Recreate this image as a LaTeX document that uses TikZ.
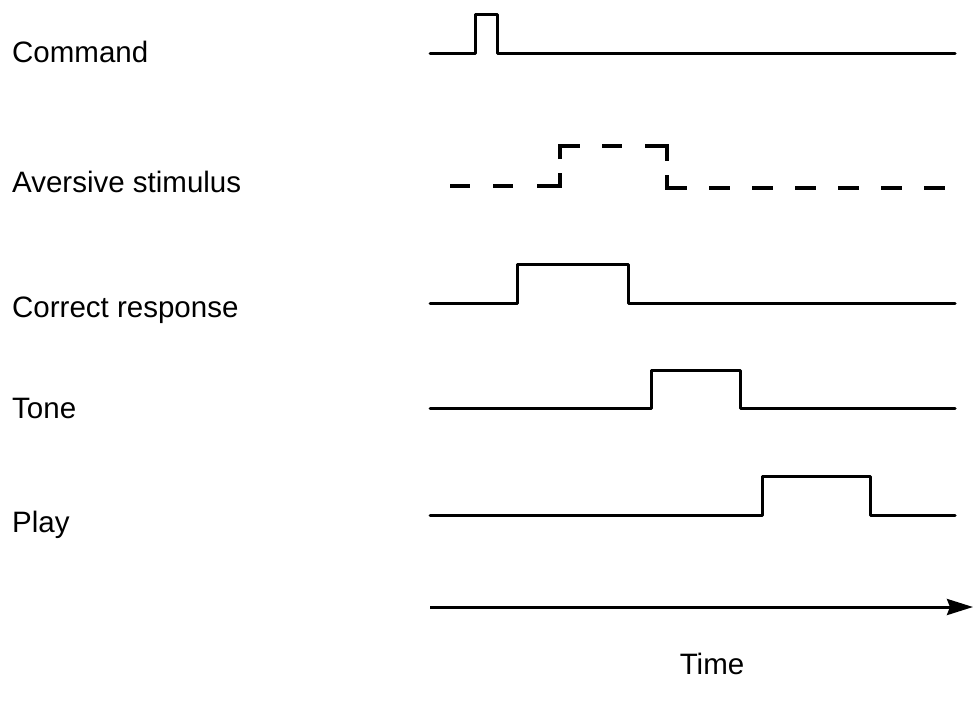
\documentclass[tikz,border=0pt]{standalone}
\usepackage{fontspec}
\setmainfont{Liberation Sans}
\usetikzlibrary{arrows.meta}
\begin{document}
\begin{tikzpicture}[x=1pt,y=-1pt,
  signal/.style={line width=3pt,line join=round,line cap=round},
  dashpiece/.style={line width=3.6pt,line join=miter},
  lbl/.style={anchor=base west,inner sep=0pt,font=\fontsize{29.5}{35}\selectfont},
  axis/.style={line width=3pt,-{Stealth[length=26pt,width=16pt,inset=3pt]}}]
\useasboundingbox (0,0) rectangle (973,704);

% signal names
\node[lbl] (lcmd)  at (12,62)  {Command};
\node[lbl] (lavs)  at (12,192) {Aversive stimulus};
\node[lbl] (lcor)  at (12,317) {Correct response};
\node[lbl] (ltone) at (12,418) {Tone};
\node[lbl] (lplay) at (12,532) {Play};
\node[lbl,anchor=base] (ltime) at (712,674) {Time};

% command: short pulse
\draw[signal] (430,53) -- (475,53) -- (475,14) -- (497,14) -- (497,53) -- (955,53);

% aversive stimulus: dashed step, drawn piece by piece
\draw[dashpiece] (450,186) -- (470,186);
\draw[dashpiece] (493,186) -- (513,186);
\draw[dashpiece] (537,186) -- (560,186) -- (560,173);
\draw[dashpiece] (560,159) -- (560,146) -- (580,146);
\draw[dashpiece] (602,146) -- (622,146);
\draw[dashpiece] (645,146) -- (667,146) -- (667,161);
\draw[dashpiece] (667,175) -- (667,188) -- (687,188);
\foreach \x in {709,752,795,838,881,924}
  \draw[dashpiece] (\x,188) -- ++(21,0);

% correct response
\draw[signal] (430,303) -- (517,303) -- (517,264) -- (628,264) -- (628,303) -- (955,303);

% tone
\draw[signal] (430,408) -- (651,408) -- (651,370) -- (740,370) -- (740,408) -- (955,408);

% play
\draw[signal] (430,515) -- (762,515) -- (762,476) -- (870,476) -- (870,515) -- (955,515);

% time axis
\coordinate (t0) at (430,607);
\coordinate (t1) at (973,607);
\draw[axis] (t0) -- (t1);
\end{tikzpicture}
\end{document}
